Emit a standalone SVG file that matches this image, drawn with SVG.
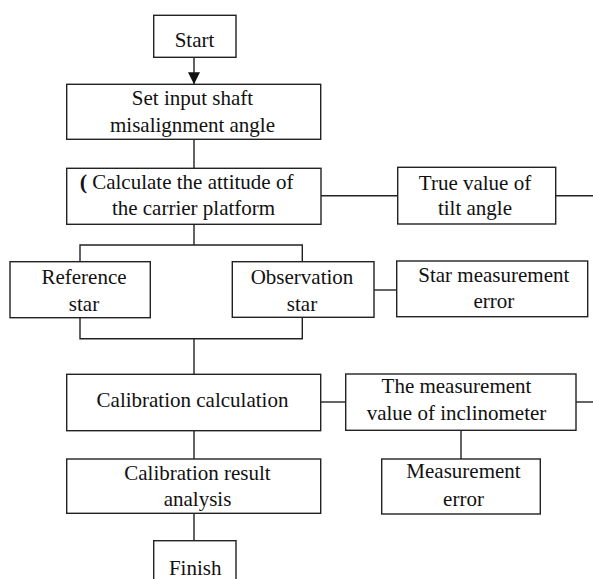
<svg xmlns="http://www.w3.org/2000/svg" width="593" height="579" viewBox="0 0 593 579">
<defs>
<style>
.box{fill:#fff;stroke:#222;stroke-width:1.4}
.ln{fill:none;stroke:#222;stroke-width:1.4}
.t{font-family:"Liberation Serif","Times New Roman",serif;font-size:21px;fill:#111;text-anchor:middle}
</style>
<marker id="ah" viewBox="0 0 12 12" refX="12" refY="6" markerWidth="12" markerHeight="12" markerUnits="userSpaceOnUse" orient="auto">
<path d="M0,0 L12,6 L0,12 z" fill="#111"/>
</marker>
</defs>
<rect width="593" height="579" fill="#fff"/>
<g id="connectors">
<line class="ln" x1="194" y1="57.3" x2="194" y2="84.3" stroke-width="2.2" marker-end="url(#ah)"/>
<line class="ln" x1="194" y1="139.3" x2="194" y2="168.3"/>
<line class="ln" x1="321" y1="195.7" x2="398" y2="195.7"/>
<line class="ln" x1="556" y1="195.7" x2="593" y2="195.7"/>
<line class="ln" x1="194" y1="224.3" x2="194" y2="245"/>
<polyline class="ln" points="80,261.7 80,245 302.3,245 302.3,261.7"/>
<polyline class="ln" points="80,317.7 80,338.7 302.3,338.7 302.3,317.3"/>
<line class="ln" x1="374" y1="290" x2="397" y2="290"/>
<line class="ln" x1="194" y1="338.7" x2="194" y2="374.3"/>
<line class="ln" x1="321" y1="402" x2="346" y2="402"/>
<line class="ln" x1="576" y1="402" x2="593" y2="402"/>
<line class="ln" x1="461" y1="430.3" x2="461" y2="459"/>
<line class="ln" x1="194" y1="430.7" x2="194" y2="459"/>
<line class="ln" x1="194" y1="513.3" x2="194" y2="540.7"/>
</g>
<g id="start">
<rect class="box" x="153.7" y="15.3" width="82.3" height="42"/>
<text class="t" x="194.5" y="46.5">Start</text>
</g>
<g id="set-input">
<rect class="box" x="66.7" y="84.3" width="254" height="55"/>
<text class="t" x="192.5" y="105">Set input shaft</text>
<text class="t" x="192.5" y="131.5">misalignment angle</text>
</g>
<g id="calc-attitude">
<rect class="box" x="66.7" y="168.3" width="254.3" height="56"/>
<text class="t" x="186.5" y="188.7"><tspan font-weight="bold" font-size="22">(</tspan> Calculate the attitude of</text>
<text class="t" x="193.5" y="215">the carrier platform</text>
</g>
<g id="true-value">
<rect class="box" x="397.7" y="167.3" width="158" height="56.7"/>
<text class="t" x="475" y="190">True value of</text>
<text class="t" x="475" y="215">tilt angle</text>
</g>
<g id="reference-star">
<rect class="box" x="10" y="261.7" width="140.3" height="56"/>
<text class="t" x="84" y="284.3">Reference</text>
<text class="t" x="84" y="311">star</text>
</g>
<g id="observation-star">
<rect class="box" x="232.3" y="261.7" width="141.7" height="55.6"/>
<text class="t" x="302" y="284.3">Observation</text>
<text class="t" x="302" y="311">star</text>
</g>
<g id="star-error">
<rect class="box" x="396.7" y="261" width="191" height="55.7"/>
<text class="t" x="493.8" y="281.7">Star measurement</text>
<text class="t" x="493.8" y="307.7">error</text>
</g>
<g id="calibration-calculation">
<rect class="box" x="66.7" y="374.3" width="254" height="56.4"/>
<text class="t" x="192.5" y="406.7">Calibration calculation</text>
</g>
<g id="inclinometer-value">
<rect class="box" x="345.7" y="374" width="230.3" height="56.3"/>
<text class="t" x="456.5" y="393.3">The measurement</text>
<text class="t" x="456.5" y="420">value of inclinometer</text>
</g>
<g id="measurement-error">
<rect class="box" x="381.7" y="459" width="158.6" height="55"/>
<text class="t" x="463.5" y="478.3">Measurement</text>
<text class="t" x="463.5" y="505.7">error</text>
</g>
<g id="calibration-result">
<rect class="box" x="66.7" y="459" width="254" height="54.3"/>
<text class="t" x="197.5" y="480">Calibration result</text>
<text class="t" x="197.5" y="506">analysis</text>
</g>
<g id="finish">
<rect class="box" x="153.7" y="540.7" width="82.3" height="60"/>
<text class="t" x="195.2" y="575">Finish</text>
</g>
</svg>
